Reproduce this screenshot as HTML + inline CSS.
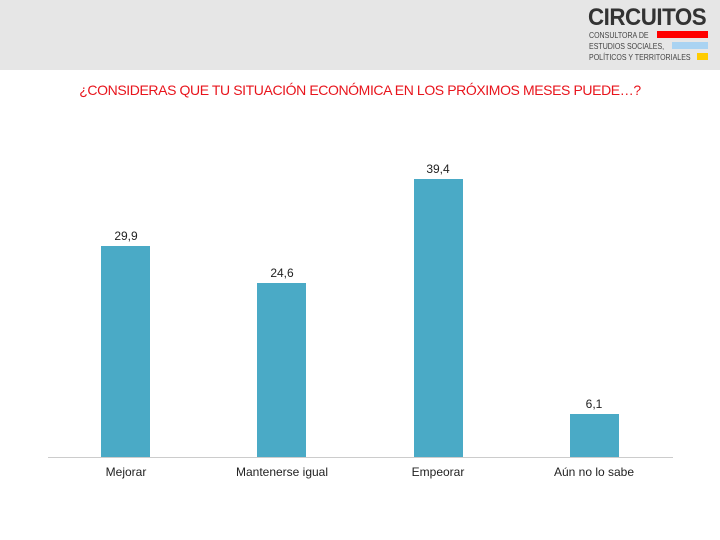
<!DOCTYPE html>
<html><head><meta charset="utf-8"><style>
body{margin:0;width:720px;height:540px;background:#fff;position:relative;font-family:"Liberation Sans",sans-serif;overflow:hidden}
.hdr{position:absolute;left:0;top:0;width:720px;height:70px;background:#e6e6e6}
.t{position:absolute;top:82px;left:0;width:720px;text-align:center;color:#e8141c;font-size:14px;letter-spacing:-0.4px}
.bar{position:absolute;width:49px;background:#4aaac6}
.v{position:absolute;width:80px;text-align:center;font-size:12px;color:#222}
.l{position:absolute;top:465px;width:140px;text-align:center;font-size:12px;color:#222}
</style></head><body>
<div class="hdr"></div>
<div style="position:absolute;left:588px;top:4px;font-size:24px;font-weight:bold;color:#333;letter-spacing:-0.5px;transform:scaleX(0.93);transform-origin:left top">CIRCUITOS</div>
<div style="position:absolute;left:589px;top:30px;font-size:8px;color:#444;line-height:11px;transform:scaleX(0.88);transform-origin:left top;white-space:nowrap">CONSULTORA DE<br>ESTUDIOS SOCIALES,<br>POLÍTICOS Y TERRITORIALES</div>
<div style="position:absolute;left:657px;top:31px;width:51px;height:7px;background:#ff0000"></div>
<div style="position:absolute;left:672px;top:42px;width:36px;height:7px;background:#a9d3f2"></div>
<div style="position:absolute;left:697px;top:53px;width:11px;height:7px;background:#ffcc00"></div>
<div class="t">¿CONSIDERAS QUE TU SITUACIÓN ECONÓMICA EN LOS PRÓXIMOS MESES PUEDE…?</div>
<div style="position:absolute;left:48px;top:457px;width:625px;height:1px;background:#ccc"></div>
<div class="bar" style="left:101px;top:246px;height:211px"></div>
<div class="bar" style="left:257px;top:283px;height:174px"></div>
<div class="bar" style="left:414px;top:179px;height:278px"></div>
<div class="bar" style="left:570px;top:414px;height:43px"></div>
<div class="v" style="left:86px;top:229px">29,9</div>
<div class="v" style="left:242px;top:266px">24,6</div>
<div class="v" style="left:398px;top:162px">39,4</div>
<div class="v" style="left:554px;top:397px">6,1</div>
<div class="l" style="left:56px">Mejorar</div>
<div class="l" style="left:212px">Mantenerse igual</div>
<div class="l" style="left:368px">Empeorar</div>
<div class="l" style="left:524px">Aún no lo sabe</div>
</body></html>
